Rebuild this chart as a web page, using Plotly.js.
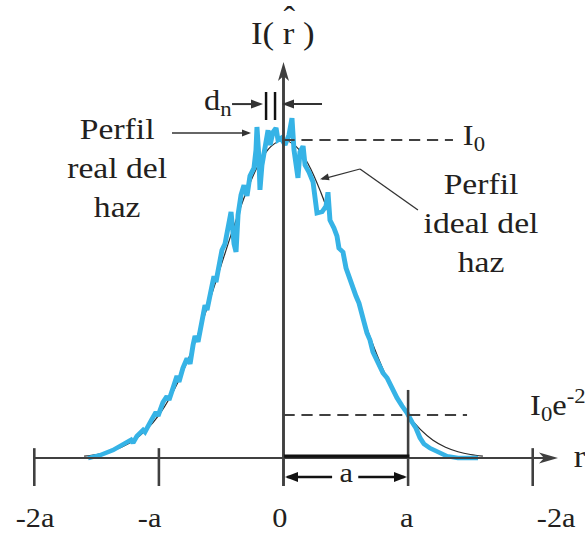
<!DOCTYPE html>
<html>
<head>
<meta charset="utf-8">
<script src="https://cdn.plot.ly/plotly-3.0.1.min.js"></script>
<style>
  html, body { margin: 0; padding: 0; background: #fff; overflow: hidden; }
  /* the figure is drawn narrow and widened, giving the wide serif lettering */
  #chart { width: 522px; height: 533px; transform: scaleX(1.1207); transform-origin: 0 0; }
</style>
</head>
<body>
<div id="chart"></div>
<script>
// Beam intensity profile. r is in units of the beam radius a, intensity in units of I0.
const S = 585 / 522;

// Ideal (Gaussian) beam profile
const idealR = [-1.6, -1.5, -1.4, -1.3, -1.2, -1.1, -1.0, -0.9, -0.8, -0.7, -0.6, -0.5, -0.4, -0.3, -0.2, -0.1,
                0.0, 0.1, 0.2, 0.3, 0.4, 0.5, 0.6, 0.7, 0.8, 0.9, 1.0, 1.1, 1.2, 1.3, 1.4, 1.5, 1.6];
const idealI = [0.006, 0.011, 0.020, 0.034, 0.056, 0.089, 0.135, 0.198, 0.278, 0.375, 0.487, 0.607, 0.726, 0.835, 0.923, 0.980,
                1.000, 0.980, 0.923, 0.835, 0.726, 0.607, 0.487, 0.375, 0.278, 0.198, 0.135, 0.089, 0.056, 0.034, 0.020, 0.011, 0.006];

// Measured (real) beam profile, with its ripple
const realR = [-1.569, -1.473, -1.368, -1.272, -1.224, -1.208, -1.176, -1.127, -1.112, -1.055,
               -1.023, -1.007, -0.967, -0.935, -0.919, -0.887, -0.855, -0.839, -0.807, -0.774,
               -0.750, -0.726, -0.710, -0.686, -0.654, -0.630, -0.614, -0.582, -0.558, -0.542,
               -0.518, -0.494, -0.470, -0.445, -0.421, -0.397, -0.381, -0.365, -0.341, -0.317,
               -0.293, -0.269, -0.237, -0.221, -0.213, -0.197, -0.189, -0.173, -0.148, -0.124,
               -0.108, -0.084, -0.060, -0.044, -0.020, 0.012, 0.044, 0.068, 0.084, 0.100,
               0.116, 0.132, 0.157, 0.173, 0.205, 0.237, 0.261, 0.269, 0.309, 0.341,
               0.357, 0.373, 0.405, 0.429, 0.445, 0.477, 0.502, 0.534, 0.558, 0.582,
               0.606, 0.630, 0.646, 0.670, 0.694, 0.718, 0.742, 0.767, 0.799, 0.831,
               0.855, 0.887, 0.911, 0.951, 0.991, 1.031, 1.063, 1.096, 1.128, 1.176,
               1.240, 1.312, 1.400, 1.561];
const realI = [0.000, 0.009, 0.025, 0.044, 0.057, 0.047, 0.069, 0.088, 0.082, 0.123,
               0.145, 0.132, 0.176, 0.195, 0.182, 0.220, 0.258, 0.239, 0.283, 0.314,
               0.296, 0.355, 0.384, 0.365, 0.440, 0.481, 0.465, 0.538, 0.572, 0.553,
               0.616, 0.654, 0.673, 0.733, 0.774, 0.673, 0.648, 0.764, 0.827, 0.858,
               0.824, 0.887, 0.912, 0.969, 1.041, 0.943, 0.843, 0.921, 0.984, 1.031,
               0.984, 1.025, 1.038, 1.000, 1.006, 0.984, 1.016, 1.069, 0.969, 0.931,
               0.881, 0.962, 0.981, 0.921, 0.899, 0.868, 0.811, 0.770, 0.774, 0.792,
               0.836, 0.748, 0.723, 0.698, 0.660, 0.648, 0.597, 0.560, 0.528, 0.509,
               0.487, 0.440, 0.428, 0.393, 0.371, 0.333, 0.314, 0.289, 0.267, 0.252,
               0.233, 0.204, 0.189, 0.164, 0.142, 0.113, 0.094, 0.063, 0.044, 0.031,
               0.019, 0.006, 0.000, 0.000];

// r axis ticks and their labels
const tickPos = [-2, -1, 1, 2];
const labelPos = [-1.994, -1.071, -0.028, 0.991, 2.187];
const labelText = ['-2a', '-a', '0', 'a', '-2a'];

// reference levels
const levelI0 = 1.0;
const levelE2 = 0.1353;   // I0 e^-2

const INK = '#231f20';
const AXIS = '#404040';
const FONT = 'Liberation Serif';

function seg(x0, y0, x1, y1, color, width, dash) {
  return { type: 'line', xref: 'x', yref: 'y', x0, y0, x1, y1,
           line: { color, width, dash: dash || 'solid' } };
}

// arrowhead drawn in screen pixels around a tip placed in data units
function head(x, y, pts, color) {
  const d = pts.map((p, i) => (i ? 'L' : 'M') + (p[0] / S).toFixed(2) + ',' + p[1].toFixed(2)).join(' ') + ' Z';
  return { type: 'path', xref: 'x', yref: 'y', xsizemode: 'pixel', ysizemode: 'pixel',
           xanchor: x, yanchor: y, path: d, fillcolor: color, line: { width: 0 } };
}
const dartRight = (L, w, n) => [[0, 0], [-L, w], [-n, 0], [-L, -w]];
const dartLeft = (L, w, n) => [[0, 0], [L, w], [n, 0], [L, -w]];
const dartUp = (L, w, n) => [[0, 0], [w, -L], [0, -n], [-w, -L]];

const shapes = [];
// r axis and I axis
shapes.push(seg(-2.0, 0, 2.12, 0, AXIS, 2));
shapes.push(head(2.203, 0, dartRight(19, 5.5, 14), AXIS));
shapes.push(seg(0, -0.088, 0, 1.21, AXIS, 2.6));
shapes.push(head(0, 1.245, dartUp(19, 5.5, 14), AXIS));
tickPos.forEach(t => {
  const top = t === 1 ? 0.214 : 0.031;
  shapes.push(seg(t, -0.088, t, top, AXIS, 2.3));
});
// reference levels I0 and I0 e^-2
shapes.push(seg(0, levelI0, 1.36, levelI0, AXIS, 2, '10px,6px'));
shapes.push(seg(0, levelE2, 1.473, levelE2, AXIS, 2, '10px,6px'));
// beam radius a: bar on the axis and double arrow below
shapes.push(seg(0.005, 0.006, 1.01, 0.006, '#111', 3.2));
shapes.push(seg(0.03, -0.0597, 0.39, -0.0597, '#111', 2.4));
shapes.push(seg(0.60, -0.0597, 0.97, -0.0597, '#111', 2.4));
shapes.push(head(0.012, -0.0597, dartLeft(13, 5, 13), '#111'));
shapes.push(head(0.991, -0.0597, dartRight(13, 5, 13), '#111'));
// ripple spacing d_n
shapes.push(seg(-0.413, 1.113, -0.19, 1.113, '#333', 2));
shapes.push(head(-0.1645, 1.113, dartRight(12, 4.5, 12), '#333'));
shapes.push(seg(0.309, 1.113, 0.02, 1.113, '#333', 2));
shapes.push(head(-0.012, 1.113, dartLeft(12, 4.5, 12), '#333'));
shapes.push(seg(-0.140, 1.063, -0.140, 1.151, '#111', 2.2));
shapes.push(seg(-0.068, 1.063, -0.068, 1.151, '#111', 2.2));
// leader lines for the two profile labels
shapes.push(seg(-0.895, 1.022, -0.28, 1.022, '#333', 1.3));
shapes.push(head(-0.261, 1.022, dartRight(9, 3.5, 9), '#333'));
shapes.push(seg(1.079, 0.780, 0.614, 0.909, '#333', 1.1));
shapes.push(seg(0.614, 0.909, 0.31, 0.877, '#333', 1.1));
shapes.push(head(0.293, 0.877, [[0, 0], [9.58, -1.21], [7.88, 5.59]], '#333'));

function txt(text, x, y, size, extra) {
  return Object.assign({ text, x, y, xref: 'x', yref: 'y', showarrow: false,
                         xanchor: 'center', yanchor: 'middle',
                         font: { family: FONT, size, color: INK } }, extra || {});
}
const annotations = [
  txt('I( r )', -0.004, 1.336, 31),
  txt('\u02C6', 0.046, 1.386, 31),
  txt('d<sub>n</sub>', -0.397, 1.118, 29, { xanchor: 'right' }),
  txt('I<sub>0</sub>', 1.417, 1.011, 29, { xanchor: 'left' }),
  txt('I<sub>0</sub>e<sup>-2</sup>', 1.962, 0.168, 29, { xanchor: 'left' }),
  txt('r', 2.315, 0.005, 31, { xanchor: 'left' }),
  txt('Perfil<br>real del<br>haz', -1.335, 0.915, 30),
  txt('Perfil<br>ideal del<br>haz', 1.585, 0.742, 30),
  txt('a', 0.5, -0.047, 27)
];
labelPos.forEach((x, i) => annotations.push(txt(labelText[i], x, -0.189, 27)));

const traces = [
  { x: idealR, y: idealI, type: 'scatter', mode: 'lines', hoverinfo: 'skip',
    line: { color: '#2a2a2a', width: 1.1, shape: 'spline' } },
  { x: realR, y: realI, type: 'scatter', mode: 'lines', hoverinfo: 'skip',
    line: { color: '#36b3e6', width: 4.4 } }
];

const layout = {
  width: 522, height: 533,
  margin: { l: 0, r: 0, t: 0, b: 0 },
  paper_bgcolor: '#fff', plot_bgcolor: '#fff',
  showlegend: false,
  xaxis: { range: [-2.2753, 2.4197], visible: false, fixedrange: true },
  yaxis: { range: [-0.2358, 1.4403], visible: false, fixedrange: true },
  shapes, annotations
};

Plotly.newPlot('chart', traces, layout, { staticPlot: true, displayModeBar: false });
</script>
</body>
</html>
